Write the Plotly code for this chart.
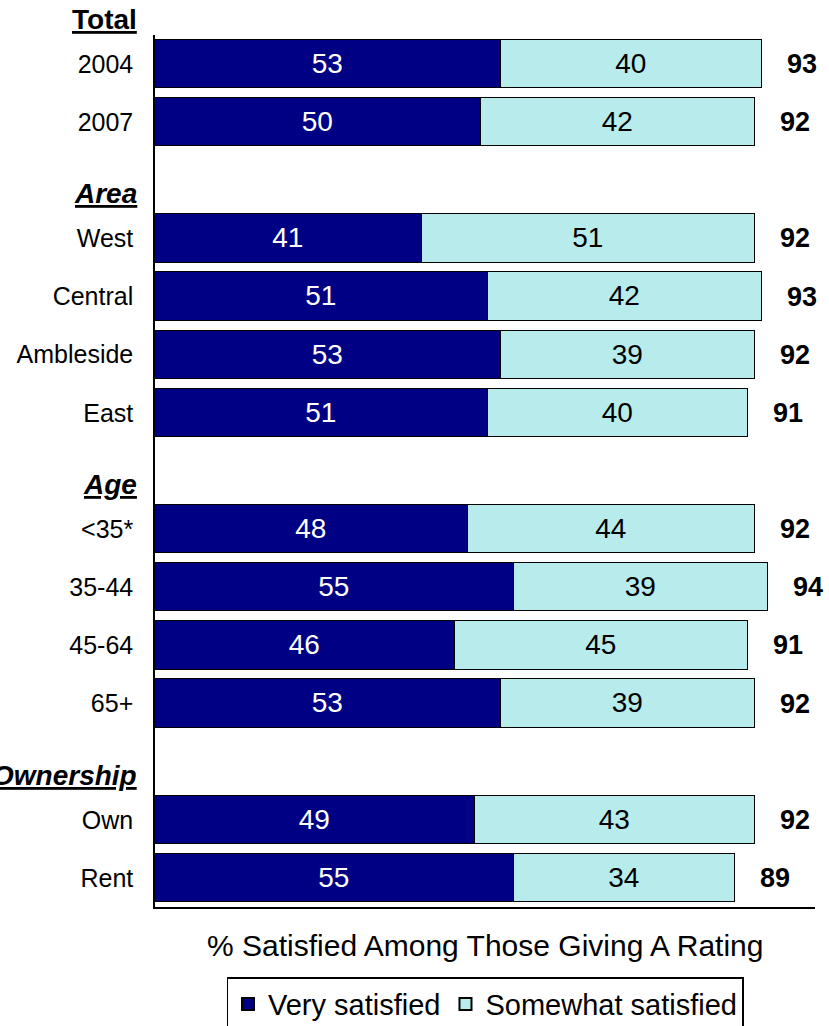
import plotly.graph_objects as go

# ---- data ----
rows = ["Total", "2004", "2007", "Area", "West", "Central", "Ambleside", "East",
        "Age", "<35*", "35-44", "45-64", "65+", "Ownership", "Own", "Rent"]
headers = ["Total", "Area", "Age", "Ownership"]
header_italic = [False, True, True, True]
categories = ["2004", "2007", "West", "Central", "Ambleside", "East",
              "<35*", "35-44", "45-64", "65+", "Own", "Rent"]
very_satisfied = [53, 50, 41, 51, 53, 51, 48, 55, 46, 53, 49, 55]
somewhat_satisfied = [40, 42, 51, 42, 39, 40, 44, 39, 45, 39, 43, 34]
total_satisfied = [93, 92, 92, 93, 92, 91, 92, 94, 91, 92, 92, 89]
x_title = "% Satisfied Among Those Giving A Rating"

FONT = "Liberation Sans, Arial, sans-serif"
DARK = "#000085"
LIGHT = "#B8ECEC"

ypos = [rows.index(c) for c in categories]
y_lo, y_hi = 0.5, len(rows) - 0.5

fig = go.Figure()
fig.add_trace(go.Bar(
    name="Very satisfied", orientation="h", y=ypos, x=very_satisfied,
    width=0.83, marker=dict(color=DARK, line=dict(color="#000000", width=1.5)),
    text=[str(v) for v in very_satisfied], textposition="inside",
    insidetextanchor="middle", textangle=0,
    textfont=dict(color="white", size=28, family=FONT),
))
fig.add_trace(go.Bar(
    name="Somewhat satisfied", orientation="h", y=ypos, x=somewhat_satisfied,
    width=0.83, marker=dict(color=LIGHT, line=dict(color="#000000", width=1.5)),
    text=[str(v) for v in somewhat_satisfied], textposition="inside",
    insidetextanchor="middle", textangle=0,
    textfont=dict(color="black", size=28, family=FONT),
))

annotations = []
for t, y in zip(total_satisfied, ypos):
    annotations.append(dict(
        x=t, y=y, xref="x", yref="y", text=f"<b>{t}</b>", showarrow=False,
        xanchor="left", yanchor="middle", xshift=23,
        font=dict(size=27, color="black", family=FONT)))

for h, it in zip(headers, header_italic):
    pos = rows.index(h) + 0.23
    frac = (y_hi - pos) / (y_hi - y_lo)
    txt = f"<b><u>{h}</u></b>"
    if it:
        txt = f"<i>{txt}</i>"
    annotations.append(dict(
        x=0, y=frac, xref="paper", yref="paper", text=txt, showarrow=False,
        xanchor="right", yanchor="middle", xshift=-16,
        font=dict(size=28, color="black", family=FONT)))

annotations.append(dict(
    x=0.5, y=-0.0436, xref="paper", yref="paper", text=x_title, showarrow=False,
    xanchor="center", yanchor="middle",
    font=dict(size=30, color="black", family=FONT)))

fig.update_layout(
    width=829, height=1026,
    margin=dict(l=155, r=14, t=35, b=119, autoexpand=False),
    barmode="stack", bargap=0,
    plot_bgcolor="white", paper_bgcolor="white",
    font=dict(family=FONT, size=25, color="black"),
    showlegend=True,
    legend=dict(orientation="h", x=0.5, xanchor="center", y=-0.0805, yanchor="top",
                bordercolor="black", borderwidth=1.5, font=dict(size=29),
                traceorder="normal", itemsizing="constant", valign="middle",
                tracegroupgap=0),
    annotations=annotations,
    xaxis=dict(range=[0, 101.2], showticklabels=False, showgrid=False,
               zeroline=False, showline=True, linecolor="black", linewidth=1.5,
               ticks=""),
    yaxis=dict(range=[y_hi, y_lo], tickvals=ypos, ticktext=categories,
               showgrid=False, zeroline=False, showline=True, linecolor="black",
               linewidth=1.5, ticks="", ticklabelstandoff=15,
               tickfont=dict(size=25, family=FONT)),
)

fig.write_html("out.html")
